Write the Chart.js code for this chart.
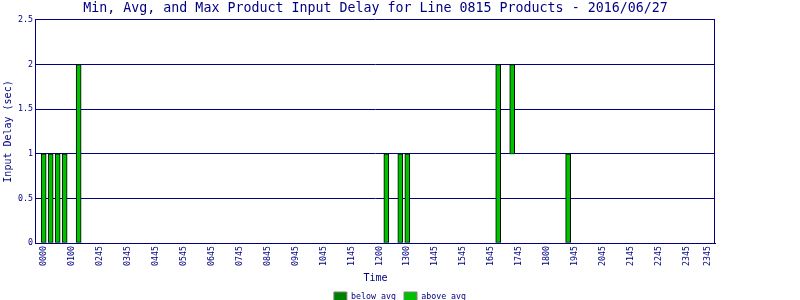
<!DOCTYPE html>
<html>
<head>
<meta charset="utf-8">
<script src="https://cdn.jsdelivr.net/npm/chart.js@4/dist/chart.umd.min.js"></script>
<style>
  html, body { margin: 0; padding: 0; background: #fff; }
  #wrap { width: 800px; height: 300px; position: relative; }
</style>
</head>
<body>
<div id="wrap"><canvas id="delay-chart"></canvas></div>
<script>
/* Min / Avg / Max input delay per 15-minute slot */
// ---------- data ----------
const barSlots = [0, 1, 2, 3, 5, 49, 51, 52, 65, 67, 75]; // 15-min slot index (0 = 00:00)
const minDelay = [0, 0, 0, 0, 0, 0, 0, 0, 0, 1, 0];
const avgDelay = [0, 0, 0, 0, 0, 0, 0, 0, 0, 1, 0];
const maxDelay = [1, 1, 1, 1, 2, 1, 1, 1, 2, 2, 1];

const tickSlots = [0, 4, 8, 12, 16, 20, 24, 28, 32, 36, 40, 44, 48, 52, 56, 60, 64, 68, 72, 76, 80, 84, 88, 92, 95];
const tickLabels = ["0000", "0100", "0245", "0345", "0445", "0545", "0645", "0745", "0845", "0945",
  "1045", "1145", "1200", "1300", "1445", "1545", "1645", "1745", "1800", "1945",
  "2045", "2145", "2245", "2345", "2345"];

(function () {
  const navy = "#000080";
  const mono = '"DejaVu Sans Mono", "Liberation Mono", monospace';

  Chart.defaults.font.family = mono;
  Chart.defaults.color = navy;

  // right edge of the plot frame
  const frame = {
    id: "frame",
    afterDatasetsDraw(chart) {
      const { ctx, chartArea: a } = chart;
      const x = Math.round(a.right) - 0.5;
      ctx.save();
      ctx.strokeStyle = navy;
      ctx.lineWidth = 1;
      ctx.beginPath();
      ctx.moveTo(x, a.top);
      ctx.lineTo(x, a.bottom);
      ctx.stroke();
      ctx.restore();
    },
  };

  new Chart(document.getElementById("delay-chart"), {
    type: "bar",
    data: {
      datasets: [
        {
          label: "below avg",
          data: barSlots.map((s, i) => ({ x: s, y: [minDelay[i], avgDelay[i]] })),
          backgroundColor: "#008000",
          borderColor: "#000000",
          borderWidth: 0,
          barThickness: 5,
          grouped: false,
        },
        {
          label: "above avg",
          data: barSlots.map((s, i) => ({ x: s, y: [avgDelay[i], maxDelay[i]] })),
          backgroundColor: "#00c000",
          borderColor: "#000000",
          borderWidth: 1,
          borderSkipped: false,
          barThickness: 5,
          grouped: false,
        },
      ],
    },
    options: {
      responsive: true,
      maintainAspectRatio: false,
      animation: false,
      layout: { padding: { left: 0, right: 0, top: 0, bottom: -11 } },
      plugins: {
        title: {
          display: true,
          fullSize: false,
          text: "Min, Avg, and Max Product Input Delay for Line 0815 Products - 2016/06/27",
          color: navy,
          font: { size: 13.3, weight: "normal" },
          padding: { top: 1, bottom: 3 },
        },
        legend: {
          position: "bottom",
          labels: {
            color: navy,
            boxWidth: 13,
            boxHeight: 9,
            padding: 8,
            font: { size: 8.3 },
            generateLabels(chart) {
              const items = Chart.defaults.plugins.legend.labels.generateLabels(chart);
              items.forEach((it) => { it.strokeStyle = "#808080"; it.lineWidth = 1; });
              return items;
            },
          },
        },
        tooltip: { enabled: false },
      },
      scales: {
        x: {
          type: "linear",
          min: -1.1,
          max: 96,
          offset: false,
          grid: { display: false, drawTicks: false },
          border: { display: true, color: navy },
          afterBuildTicks(scale) {
            scale.ticks = tickSlots.map((v) => ({ value: v }));
          },
          ticks: {
            color: navy,
            font: { size: 8.3 },
            minRotation: 90,
            maxRotation: 90,
            autoSkip: false,
            padding: 3,
            callback: (v, i) => tickLabels[i],
          },
          title: {
            display: true,
            text: "Time",
            color: navy,
            font: { size: 10 },
            padding: { top: 3, bottom: 0 },
          },
        },
        y: {
          min: 0,
          max: 2.5,
          grid: { color: navy, drawTicks: false },
          border: { display: true, color: navy },
          ticks: {
            stepSize: 0.5,
            color: navy,
            font: { size: 8.3 },
            padding: 3,
            callback: (v) => String(v),
          },
          title: {
            display: true,
            text: "Input Delay (sec)",
            color: navy,
            font: { size: 10 },
            padding: { top: 2, bottom: 1 },
          },
        },
        // empty right margin
        pad: {
          position: "right",
          display: true,
          grid: { display: false, drawTicks: false },
          border: { display: false },
          ticks: { display: false },
          afterFit(scale) { scale.width = 85; },
        },
      },
    },
    plugins: [frame],
  });
})();
</script>
</body>
</html>
